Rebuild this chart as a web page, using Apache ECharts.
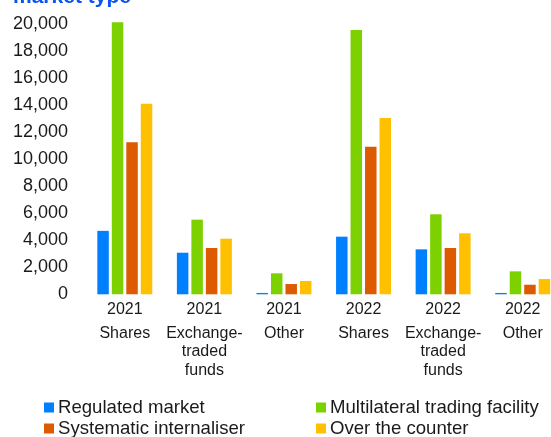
<!DOCTYPE html>
<html>
<head>
<meta charset="utf-8">
<script src="https://cdn.jsdelivr.net/npm/echarts@6/dist/echarts.min.js"></script>
<style>
html,body{margin:0;padding:0;background:#fff;overflow:hidden;width:551px;height:437px;}
#c{width:563px;height:437px;}
</style>
</head>
<body>
<div id="c"></div>
<script>
var years = ['2021', '2021', '2021', '2022', '2022', '2022'];
var types = ['Shares', 'Exchange-\ntraded\nfunds', 'Other', 'Shares', 'Exchange-\ntraded\nfunds', 'Other'];
var seriesNames = ['Regulated market', 'Multilateral trading facility', 'Systematic internaliser', 'Over the counter'];
var regulated = [4700, 3080, 100, 4270, 3330, 100];
var multilateral = [20150, 5530, 1555, 19580, 5925, 1700];
var systematic = [11260, 3430, 760, 10930, 3430, 710];
var otc = [14110, 4120, 990, 13060, 4520, 1130];
var yTicks = [0, 2000, 4000, 6000, 8000, 10000, 12000, 14000, 16000, 18000, 20000];

var colors = ['#0080FF', '#7DD100', '#DD5A00', '#FFC000'];
var categories = years.map(function (y, i) { return y + '|' + types[i]; });
var values = [regulated, multilateral, systematic, otc];

var chart = echarts.init(document.getElementById('c'), null, {renderer: 'canvas'});
var font = 'Liberation Sans, Arial, sans-serif';

function legendCfg(names, left) {
  return {
    data: names,
    orient: 'vertical',
    left: left,
    top: 398,
    height: 80,
    padding: 0,
    itemWidth: 10,
    itemHeight: 10,
    itemGap: 2,
    icon: 'rect',
    textStyle: {fontSize: 18.6, lineHeight: 18, fontFamily: font, color: '#1a1a1a', padding: [0, 0, 0, -1]}
  };
}

chart.setOption({
  animation: false,
  color: colors,
  title: {
    text: 'market type',
    left: 8,
    top: -18,
    textStyle: {color: '#0A55F0', fontFamily: font, fontWeight: 'bold', fontSize: 21}
  },
  grid: {left: 85, right: 0.5, top: 24.3, bottom: 142.7, containLabel: false},
  xAxis: {
    type: 'category',
    data: categories,
    axisLine: {show: false},
    axisTick: {show: false},
    axisLabel: {
      interval: 0,
      margin: 0,
      fontFamily: font,
      color: '#1a1a1a',
      formatter: function (v) {
        var p = v.split('|');
        return '{y|' + p[0] + '}\n' + p[1].split('\n').map(function (s) { return '{c|' + s + '}'; }).join('\n');
      },
      rich: {
        y: {fontSize: 16, lineHeight: 30, fontFamily: font, color: '#1a1a1a'},
        c: {fontSize: 16, lineHeight: 18.5, fontFamily: font, color: '#1a1a1a'}
      }
    }
  },
  yAxis: {
    type: 'value',
    min: yTicks[0],
    max: yTicks[yTicks.length - 1],
    interval: yTicks[1] - yTicks[0],
    axisLine: {show: false},
    axisTick: {show: false},
    splitLine: {show: false},
    axisLabel: {
      margin: 17,
      fontSize: 18,
      fontFamily: font,
      color: '#1a1a1a',
      formatter: function (v) { return v.toLocaleString('en-US'); }
    }
  },
  legend: [
    legendCfg([seriesNames[0], seriesNames[2]], 44),
    legendCfg([seriesNames[1], seriesNames[3]], 316)
  ],
  series: seriesNames.map(function (name, i) {
    return {
      name: name,
      type: 'bar',
      data: values[i],
      barWidth: 11.5,
      barGap: '26%',
      clip: false,
      itemStyle: {color: colors[i]}
    };
  })
});
</script>
</body>
</html>
